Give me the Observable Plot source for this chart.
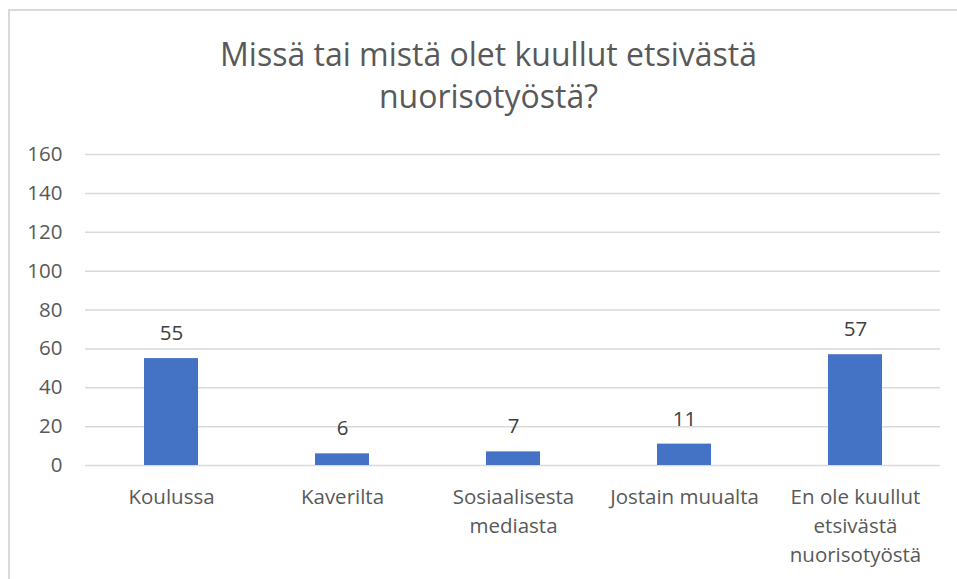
<!DOCTYPE html>
<html><head><meta charset="utf-8">
<script src="https://cdn.jsdelivr.net/npm/d3@7"></script>
<script src="https://cdn.jsdelivr.net/npm/@observablehq/plot@0.6"></script>
<style>
html,body{margin:0;padding:0;background:#fff;overflow:hidden;}
body{width:957px;height:579px;position:relative;font-family:"Open Sans",Lato,sans-serif;}
#frame{position:absolute;left:8px;top:9px;width:1000px;height:1000px;border:2px solid #d9d9d9;box-sizing:border-box;}
#chart{position:absolute;left:0;top:0;}
#title{position:absolute;left:0;top:33px;width:977px;text-align:center;color:#595959;font-size:32px;line-height:42px;}
</style></head>
<body>
<div id="frame"></div>
<div id="chart"></div>
<div id="title"></div>
<script>
const titleLines = ["Missä tai mistä olet kuullut etsivästä", "nuorisotyöstä?"];
const categories = ["Koulussa", "Kaverilta", "Sosiaalisesta mediasta", "Jostain muualta", "En ole kuullut etsivästä nuorisotyöstä"];
const values = [55, 6, 7, 11, 57];
const tickLabels = ["Koulussa", "Kaverilta", "Sosiaalisesta\nmediasta", "Jostain muualta", "En ole kuullut\netsivästä\nnuorisotyöstä"];
const yTicks = [0, 20, 40, 60, 80, 100, 120, 140, 160];

const data = categories.map((c, i) => ({category: c, value: values[i]}));
const labelOf = new Map(categories.map((c, i) => [c, tickLabels[i]]));

const titleEl = document.getElementById("title");
titleLines.forEach((t, i) => { if (i) titleEl.appendChild(document.createElement("br")); titleEl.appendChild(document.createTextNode(t)); });

const chart = Plot.plot({
  width: 957,
  height: 579,
  marginLeft: 85,
  marginRight: 17,
  marginTop: 154,
  marginBottom: 114,
  style: {fontFamily: "'Open Sans', Lato, sans-serif", color: "#595959", background: "transparent"},
  x: {domain: categories, paddingInner: 0.685, paddingOuter: 0.3425, label: null},
  y: {domain: [0, 160], label: null},
  marks: [
    Plot.gridY(yTicks, {stroke: "#d9d9d9", strokeOpacity: 1, strokeWidth: 1.5}),
    Plot.barY(data, {x: "category", y: "value", fill: "#4472C4"}),
    Plot.text(data, {x: "category", y: "value", text: d => String(d.value), dy: -25, fontSize: 20.5, fill: "#404040"}),
    Plot.axisY(yTicks, {tickSize: 0, tickPadding: 23, fontSize: 20.5, label: null}),
    Plot.axisX({tickSize: 0, tickPadding: 18, fontSize: 20.5, lineHeight: 1.42, tickFormat: d => labelOf.get(d), label: null})
  ]
});
document.getElementById("chart").appendChild(chart);
</script>
</body></html>
